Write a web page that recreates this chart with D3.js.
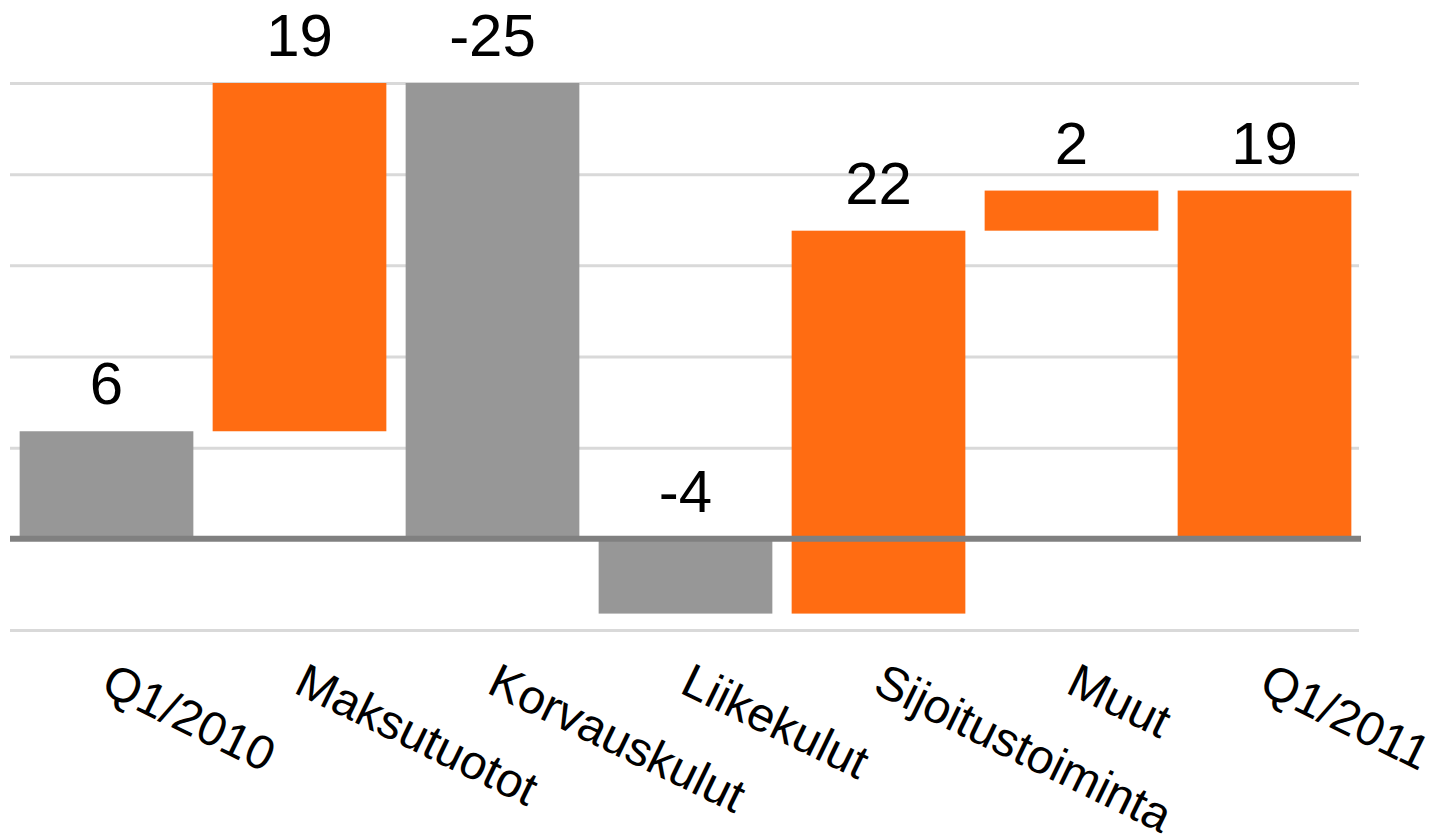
<!DOCTYPE html>
<html>
<head>
<meta charset="utf-8">
<script src="https://cdn.jsdelivr.net/npm/d3@7"></script>
<style>
  body { margin: 0; background: #fff; }
  text { font-family: "Liberation Sans", Arial, sans-serif; fill: #000; }
</style>
</head>
<body>
<div id="chart"></div>
<script>
const svgWidth = 1439
const svgHeight = 835

// waterfall data (first and last are totals)
const categories = ["Q1/2010", "Maksutuotot", "Korvauskulut", "Liikekulut", "Sijoitustoiminta", "Muut", "Q1/2011"]
const values = [5.9, 19.1, -25.0, -4.1, 21.0, 2.2, 19.1]
const isTotal = [true, false, false, false, false, false, true]
const valueLabels = ["6", "19", "-25", "-4", "22", "2", "19"]
const yTicks = [-5, 0, 5, 10, 15, 20, 25]

const gray = "#979797"
const orange = "#ff6c12"

// running base/end for each bar
let running = 0
const bars = categories.map((c, i) => {
  let base, end
  if (isTotal[i]) {
    base = 0
    end = values[i]
    running = values[i]
  } else {
    base = running
    end = running + values[i]
    running = end
  }
  return { name: c, base, end, value: values[i], label: valueLabels[i], i }
})

const svg = d3.select("#chart").append("svg")
  .attr("width", svgWidth)
  .attr("height", svgHeight)

const x = d3.scaleBand()
  .domain(categories)
  .range([10, 1361])
  .paddingInner(0.1)
  .paddingOuter(0.05)

const y = d3.scaleLinear()
  .domain([-5, 25])
  .range([630, 83])

// gridlines
const grid = svg.append("g")
  .attr("transform", "translate(10,0)")
  .call(d3.axisLeft(y).tickValues(yTicks).tickSize(-1349).tickFormat(""))
grid.select(".domain").remove()
grid.selectAll(".tick line")
  .attr("stroke", "#d9d9d9")
  .attr("stroke-width", 3)

svg.selectAll("rect.bar")
  .data(bars)
  .enter()
  .append("rect")
  .attr("class", "bar")
  .attr("x", d => x(d.name))
  .attr("width", x.bandwidth())
  .attr("y", d => y(Math.max(d.base, d.end)))
  .attr("height", d => Math.abs(y(d.base) - y(d.end)))
  .attr("fill", d => (d.i === 0 || d.value < 0) ? gray : orange)

// zero line on top
svg.append("line")
  .attr("x1", 10)
  .attr("x2", 1361)
  .attr("y1", y(0))
  .attr("y2", y(0))
  .attr("stroke", "#808080")
  .attr("stroke-width", 6)

// value labels
svg.selectAll("text.val")
  .data(bars)
  .enter()
  .append("text")
  .attr("class", "val")
  .attr("x", d => x(d.name) + x.bandwidth() / 2)
  .attr("y", d => y(Math.max(d.base, d.end)) - 27)
  .attr("text-anchor", "middle")
  .style("font-size", "60px")
  .text(d => d.label)

// rotated category labels
svg.selectAll("text.cat")
  .data(categories)
  .enter()
  .append("text")
  .attr("class", "cat")
  .attr("transform", d => `translate(${x(d) + x.bandwidth() / 2 + 8}, 661) rotate(26)`)
  .attr("dy", "0.72em")
  .style("font-size", "48px")
  .text(d => d)
</script>
</body>
</html>
